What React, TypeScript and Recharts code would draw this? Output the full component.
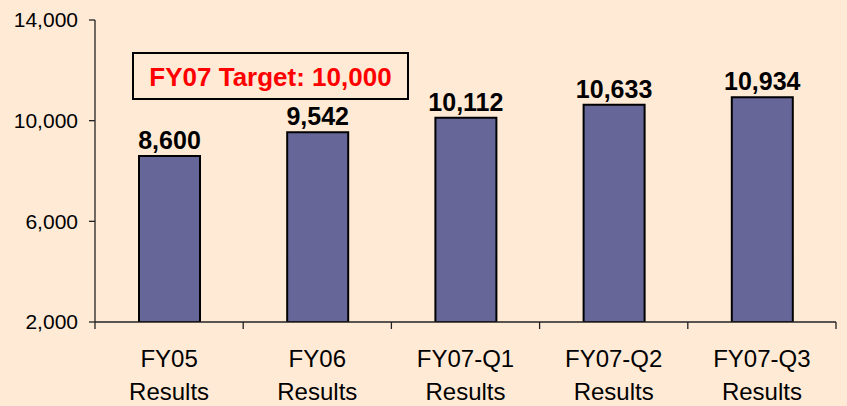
import React from 'react';
import { BarChart, Bar, XAxis, YAxis, LabelList, Customized } from 'recharts';

const categories = ['FY05 Results', 'FY06 Results', 'FY07-Q1 Results', 'FY07-Q2 Results', 'FY07-Q3 Results'];
const values = [8600, 9542, 10112, 10633, 10934];
const yTicks = [2000, 6000, 10000, 14000];
const targetLabel = 'FY07 Target: 10,000';

const data = categories.map((c, i) => ({ name: c, value: values[i] }));

const FONT = '"Liberation Sans", Arial, Helvetica, sans-serif';
const fmt = (v: number) => Number(v).toLocaleString('en-US');

const CategoryTick = (props: any) => {
  const { x, y, payload, index, visibleTicksCount, width } = props;
  const half = payload && payload.offset ? payload.offset : width / visibleTicksCount / 2;
  const [l1, l2] = String(payload.value).split(' ');
  return (
    <g>
      <line x1={x - half} x2={x - half} y1={y} y2={y + 7} stroke="#222" strokeWidth={1.3} />
      {index === visibleTicksCount - 1 && (
        <line x1={x + half} x2={x + half} y1={y} y2={y + 7} stroke="#222" strokeWidth={1.3} />
      )}
      <text x={x} y={y + 45} textAnchor="middle" fontSize={24} fill="#000" fontFamily={FONT}>{l1}</text>
      <text x={x} y={y + 78} textAnchor="middle" fontSize={24} fill="#000" fontFamily={FONT}>{l2}</text>
    </g>
  );
};

const TargetBox = () => (
  <g>
    <rect x={133} y={53} width={275} height={46} fill="none" stroke="#000" strokeWidth={2} />
    <text x={270.5} y={86} textAnchor="middle" fontSize={26} fontWeight="bold" fill="#FF0000" fontFamily={FONT}>
      {targetLabel}
    </text>
  </g>
);

export default function App() {
  return (
    <div style={{ position: 'absolute', left: 0, top: 0, width: 847, height: 406, background: '#FFEAD6' }}>
      <BarChart width={847} height={406} data={data} margin={{ top: 20, right: 11, bottom: 0, left: 0 }}>
        <XAxis
          dataKey="name"
          height={84}
          interval={0}
          tickLine={false}
          tickSize={0}
          tickMargin={0}
          axisLine={{ stroke: '#222', strokeWidth: 1.3 }}
          tick={<CategoryTick />}
        />
        <YAxis
          type="number"
          domain={[2000, 14000]}
          ticks={yTicks}
          width={95}
          tickSize={6}
          tickMargin={11}
          tickFormatter={fmt}
          axisLine={{ stroke: '#222', strokeWidth: 1.3 }}
          tickLine={{ stroke: '#222', strokeWidth: 1.3 }}
          tick={{ fill: '#000', fontSize: 21, fontFamily: FONT }}
          allowDataOverflow
        />
        <Bar dataKey="value" fill="#666699" stroke="#000" strokeWidth={2} barSize={61} isAnimationActive={false}>
          <LabelList
            dataKey="value"
            position="top"
            offset={7}
            formatter={fmt}
            fill="#000"
            fontSize={25}
            fontWeight="bold"
            fontFamily={FONT}
          />
        </Bar>
        <Customized component={TargetBox} />
      </BarChart>
    </div>
  );
}
